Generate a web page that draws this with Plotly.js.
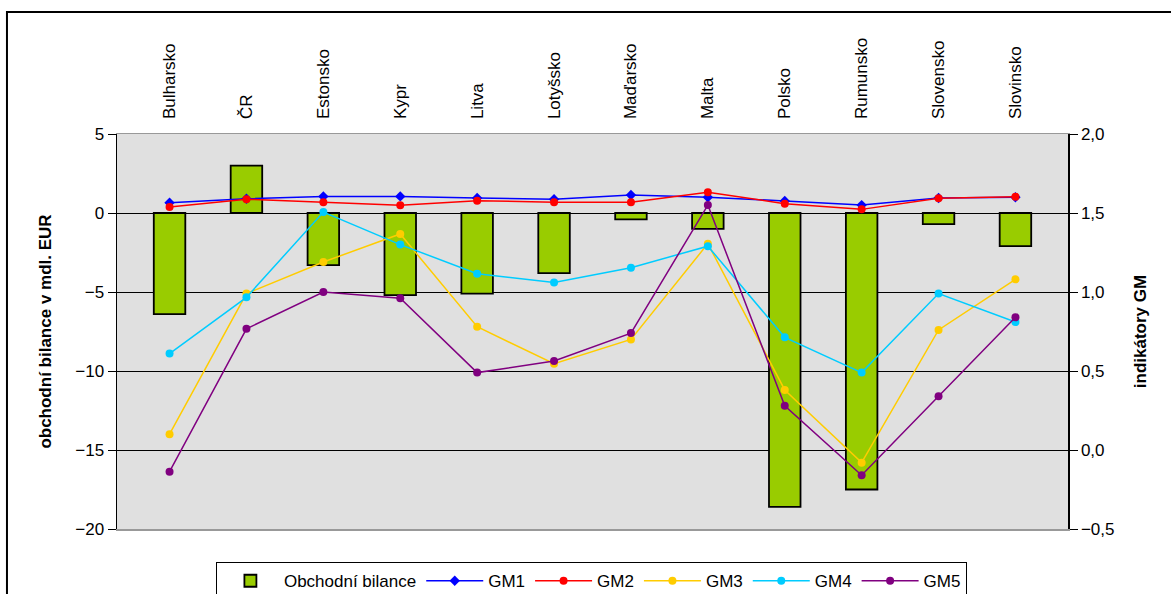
<!DOCTYPE html>
<html>
<head>
<meta charset="utf-8">
<script src="https://cdn.plot.ly/plotly-3.0.1.min.js"></script>
<style>html,body{margin:0;padding:0;background:#fff;}#chart{width:1171px;height:594px;}</style>
</head>
<body>
<div id="chart"></div>
<script>
const countries = ["Bulharsko","ČR","Estonsko","Kypr","Litva","Lotyšsko","Maďarsko","Malta","Polsko","Rumunsko","Slovensko","Slovinsko"];
const balance = [-6.4, 3.0, -3.3, -5.2, -5.1, -3.8, -0.4, -1.0, -18.6, -17.5, -0.7, -2.1];
const gm1 = [1.565, 1.59, 1.605, 1.605, 1.595, 1.587, 1.614, 1.60, 1.576, 1.55, 1.595, 1.60];
const gm2 = [1.538, 1.587, 1.568, 1.549, 1.578, 1.568, 1.568, 1.631, 1.559, 1.523, 1.593, 1.603];
const gm3 = [0.10, 0.99, 1.19, 1.367, 0.78, 0.546, 0.70, 1.306, 0.38, -0.08, 0.76, 1.08];
const gm4 = [0.61, 0.966, 1.506, 1.30, 1.116, 1.06, 1.154, 1.29, 0.713, 0.49, 0.99, 0.81];
const gm5 = [-0.137, 0.767, 1.0, 0.96, 0.49, 0.563, 0.74, 1.55, 0.28, -0.16, 0.34, 0.84];

const font = "Liberation Sans, Arial, sans-serif";
function line(name, y, color, symbol) {
  return {type: "scatter", mode: "lines+markers", name: name, x: countries, y: y, yaxis: "y2",
    line: {color: color, width: 1.5}, marker: {color: color, size: 8, symbol: symbol}};
}
const data = [
  {type: "bar", name: "Obchodní bilance", x: countries, y: balance, width: 0.41,
   marker: {color: "#99cc00", line: {color: "#000000", width: 1.8}}},
  line("GM1", gm1, "#0000ff", "diamond"),
  line("GM2", gm2, "#ff0000", "circle"),
  line("GM3", gm3, "#ffcc00", "circle"),
  line("GM4", gm4, "#00ccff", "circle"),
  line("GM5", gm5, "#800080", "circle")
];
const layout = {
  width: 1171, height: 594,
  margin: {l: 117, r: 103, t: 134, b: 65, autoexpand: false},
  paper_bgcolor: "#ffffff", plot_bgcolor: "#e0e0e0",
  separators: ", ",
  font: {family: font, color: "#000", size: 17},
  showlegend: true,
  legend: {orientation: "h", x: 0.104, xanchor: "left", y: -0.084, yanchor: "top",
    bordercolor: "#000", borderwidth: 1, bgcolor: "#fff", font: {size: 17, family: font},
    traceorder: "normal", itemwidth: 57},
  xaxis: {side: "top", type: "category", tickangle: -90, showgrid: false, zeroline: false,
    showline: true, linecolor: "#999999", linewidth: 1.5, mirror: true, ticks: "",
    ticklabelstandoff: 10, tickfont: {size: 17, family: font}, automargin: false},
  yaxis: {range: [-20, 5], dtick: 5, showgrid: true, gridcolor: "#000000", gridwidth: 1,
    zeroline: false, showline: true, linecolor: "#000", linewidth: 1.5, ticks: "outside",
    ticklen: 8, tickcolor: "#000", tickfont: {size: 17, family: font}, automargin: false,
    title: {text: "obchodní bilance v mdl. EUR", font: {size: 17, family: font, weight: "bold"}, standoff: 19}},
  yaxis2: {overlaying: "y", side: "right", range: [-0.5, 2.0], dtick: 0.5, tickformat: ".1f",
    showgrid: false, zeroline: false, showline: true, linecolor: "#000", linewidth: 1.5,
    ticks: "outside", ticklen: 8, tickcolor: "#000", tickfont: {size: 17, family: font}, automargin: false,
    title: {text: "indikátory GM", font: {size: 17, family: font, weight: "bold"}, standoff: 20}},
  shapes: [{type: "rect", xref: "paper", yref: "paper", x0: -0.1157, x1: 1.2, y0: -0.3, y1: 1.309,
    line: {color: "#000", width: 2}, fillcolor: "rgba(0,0,0,0)", layer: "below"}]
};
Plotly.newPlot("chart", data, layout, {displayModeBar: false, staticPlot: true});
</script>
</body>
</html>
